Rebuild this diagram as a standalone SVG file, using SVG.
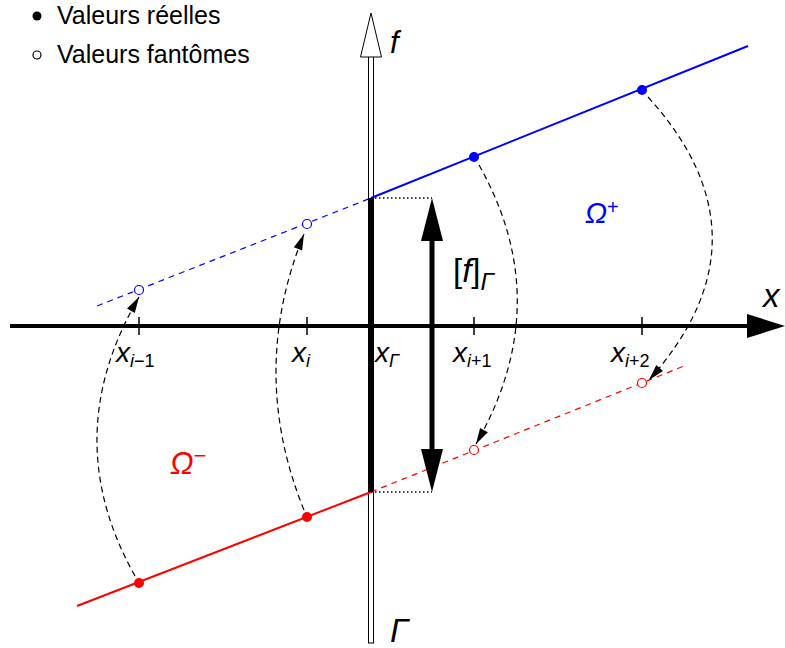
<svg xmlns="http://www.w3.org/2000/svg" width="785" height="648" viewBox="0 0 785 648">
<style>
text{font-family:"Liberation Sans",Arial,sans-serif;fill:#000}
.it{font-style:italic}
.dash{fill:none;stroke:#000;stroke-width:1.2;stroke-dasharray:6,4}
.ghostB{fill:#fff;stroke:#0000ff;stroke-width:1.2}
.ghostR{fill:#fff;stroke:#ff0000;stroke-width:1.2}
.tick{stroke:#000;stroke-width:1.5}
</style>
<defs>
<marker id="ah" markerUnits="userSpaceOnUse" markerWidth="20" markerHeight="12" viewBox="-16 -6 17 12" refX="0" refY="0" orient="auto">
<path d="M0,0 L-16,-4.5 L-16,4.5 z" fill="#000"/>
</marker>
</defs>
<rect width="785" height="648" fill="#fff"/>

<g id="legend">
<circle cx="37" cy="16" r="4.5" fill="#000"/>
<text x="57" y="24" font-size="25">Valeurs réelles</text>
<circle cx="37" cy="55" r="4" fill="#fff" stroke="#000" stroke-width="1.2"/>
<text x="57" y="63" font-size="25">Valeurs fantômes</text>
</g>

<g id="x-axis">
<line x1="10" y1="326" x2="752" y2="326" stroke="#000" stroke-width="4"/>
<path d="M785,326 L747,314 L747,338 z" fill="#000"/>
<line class="tick" x1="139" y1="317" x2="139" y2="335"/>
<line class="tick" x1="307" y1="317" x2="307" y2="335"/>
<line class="tick" x1="474" y1="317" x2="474" y2="335"/>
<line class="tick" x1="642" y1="317" x2="642" y2="335"/>
<text class="it" x="763" y="307" font-size="33">x</text>
</g>

<g id="f-axis">
<rect x="368.5" y="56" width="5" height="587" fill="#fff" stroke="#000" stroke-width="1"/>
<path d="M371,13 L360.5,57 L381.5,57 z" fill="#fff" stroke="#000" stroke-width="1"/>
<text class="it" x="390" y="53" font-size="31">f</text>
<text class="it" x="390" y="642" font-size="33">Γ</text>
</g>

<g id="blue-line">
<line x1="97" y1="306" x2="371" y2="198" stroke="#0000ff" stroke-width="1.2" stroke-dasharray="6,5"/>
<line x1="371" y1="198" x2="748" y2="46" stroke="#0000ff" stroke-width="2"/>
<circle class="ghostB" cx="139" cy="290" r="4.5"/>
<circle class="ghostB" cx="307" cy="224" r="4.5"/>
<circle cx="474" cy="157" r="5" fill="#0000ff"/>
<circle cx="642" cy="90" r="5" fill="#0000ff"/>
<text class="it" x="585" y="223" font-size="29" style="fill:#0000ff">Ω<tspan font-size="20" dy="-9" font-style="normal">+</tspan></text>
</g>

<g id="red-line">
<line x1="77" y1="606" x2="371" y2="492" stroke="#ff0000" stroke-width="2"/>
<line x1="371" y1="492" x2="684" y2="366" stroke="#ff0000" stroke-width="1.2" stroke-dasharray="6,5"/>
<circle cx="139" cy="583" r="5" fill="#ff0000"/>
<circle cx="307" cy="517" r="5" fill="#ff0000"/>
<circle class="ghostR" cx="474" cy="450" r="4.5"/>
<circle class="ghostR" cx="642" cy="383" r="4.5"/>
<text class="it" x="170" y="474" font-size="31" style="fill:#ff0000">Ω<tspan font-size="22" dy="-11" font-style="normal">−</tspan></text>
</g>

<g id="jump">
<line x1="371" y1="198" x2="371" y2="492" stroke="#000" stroke-width="4"/>
<line x1="371" y1="198" x2="432" y2="198" stroke="#000" stroke-width="1.3" stroke-dasharray="1.5,2.5"/>
<line x1="371" y1="492" x2="432" y2="492" stroke="#000" stroke-width="1.3" stroke-dasharray="1.5,2.5"/>
<line x1="432" y1="238" x2="432" y2="452" stroke="#000" stroke-width="5"/>
<path d="M432,198 L421,241 L443,241 z" fill="#000"/>
<path d="M432,492 L421,449 L443,449 z" fill="#000"/>
<text x="453" y="282" font-size="33">[<tspan class="it">f</tspan>]<tspan class="it" font-size="24" dy="8">Γ</tspan></text>
</g>

<g id="labels">
<text class="it" x="116" y="362" font-size="28">x<tspan font-size="18" dy="5">i</tspan><tspan font-size="18" font-style="normal">−1</tspan></text>
<text class="it" x="292" y="362" font-size="28">x<tspan font-size="18" dy="5">i</tspan></text>
<text class="it" x="375" y="362" font-size="28">x<tspan font-size="18" dy="5">Γ</tspan></text>
<text class="it" x="453" y="362" font-size="28">x<tspan font-size="18" dy="5">i</tspan><tspan font-size="18" font-style="normal">+1</tspan></text>
<text class="it" x="611" y="362" font-size="28">x<tspan font-size="18" dy="5">i</tspan><tspan font-size="18" font-style="normal">+2</tspan></text>
</g>

<g id="connectors">
<path class="dash" d="M135,576 Q57,437 139,297" marker-end="url(#ah)"/>
<path class="dash" d="M304,510 Q248,372 304,234" marker-end="url(#ah)"/>
<path class="dash" d="M479,165 Q557,303 476,444" marker-end="url(#ah)"/>
<path class="dash" d="M648,97 Q776,238 649,380" marker-end="url(#ah)"/>
</g>
</svg>
